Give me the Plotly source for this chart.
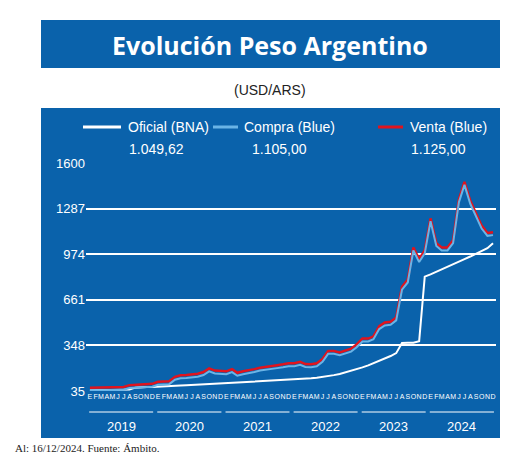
import plotly.graph_objects as go
import pandas as pd

months = pd.date_range("2019-01-01", periods=72, freq="MS") + pd.Timedelta(days=14)
oficial = [39,40,42,44,46,45,43,46,58,62,63,63,
           64,66,68,70,72,74,76,78,80,82,85,88,
           91,93,95,97,98,100,101,102,103,105,107,109,
           112,115,118,122,126,131,137,144,152,162,172,184,
           197,211,225,240,257,275,295,365,366,366,376,820,
           835,852,870,888,905,922,940,958,977,995,1015,1049.62]
compra = [38,39,41,44,45,43,43,55,58,62,64,64,
          78,78,82,112,123,125,128,133,145,170,155,150,
          150,165,140,150,155,165,175,180,182,192,198,205,
          205,215,200,198,205,235,290,290,280,290,305,335,
          375,375,390,460,485,490,520,730,780,1000,920,980,
          1200,1030,1000,1000,1050,1330,1450,1320,1230,1150,1100,1105]
venta = [c + 20 for c in compra[:-1]] + [1125]
yticks = [35, 348, 661, 974, 1287, 1600]
month_letters = ["E","F","M","A","M","J","J","A","S","O","N","D"]
years = ["2019","2020","2021","2022","2023","2024"]

W, H = 520, 468
L, R, T, B = 78, 32, 155, 85
def px(x): return (x - L) / (W - L - R)
def py(y): return (H - B - y) / (H - T - B)

BLUE = "#0a62ab"
FONT = "Liberation Sans"
fig = go.Figure()
fig.add_trace(go.Scatter(x=months, y=oficial, mode="lines", line=dict(color="white", width=2), name="Oficial (BNA)"))
fig.add_trace(go.Scatter(x=months, y=venta, mode="lines", line=dict(color="#e0141e", width=2.5), name="Venta (Blue)"))
fig.add_trace(go.Scatter(x=months, y=compra, mode="lines", line=dict(color="#6ab4e6", width=2), name="Compra (Blue)"))

shapes = [
    dict(type="rect", xref="paper", yref="paper", x0=px(33), x1=px(492), y0=py(60), y1=py(12), fillcolor=BLUE, line_width=0, layer="below"),
    dict(type="rect", xref="paper", yref="paper", x0=px(33), x1=px(492), y0=py(430), y1=py(100), fillcolor=BLUE, line_width=0, layer="below"),
]
for x0, x1, c in [(75, 113, "white"), (205, 230, "#6ab4e6"), (370, 395, "#e0141e")]:
    shapes.append(dict(type="line", xref="paper", yref="paper", x0=px(x0), x1=px(x1), y0=py(119), y1=py(119), line=dict(color=c, width=3)))
def ann(text, x, y, size, color="white", xanchor="center", family=FONT):
    return dict(text=text, x=px(x), y=py(y), xref="paper", yref="paper", showarrow=False,
                xanchor=xanchor, yanchor="middle", font=dict(size=size, color=color, family=family))
annotations = [
    ann("<b>Evolución Peso Argentino</b>", 262, 37, 25, family="Open Sans"),
    ann("(USD/ARS)", 262, 82, 14, color="#222"),
    ann("Oficial (BNA)", 118, 119, 14, xanchor="left"),
    ann("Compra (Blue)", 234, 119, 14, xanchor="left"),
    ann("Venta (Blue)", 400, 119, 14, xanchor="left"),
    ann("1.049,62", 148, 141, 14),
    ann("1.105,00", 271, 141, 14),
    ann("1.125,00", 430, 141, 14),
    ann("Al: 16/12/2024. Fuente: Ámbito.", 5, 440, 11, color="#222", xanchor="left", family="Liberation Serif"),
]
for yr in years:
    xs = pd.Timestamp(f"{yr}-01-01"); xe = pd.Timestamp(f"{yr}-12-20")
    shapes.append(dict(type="line", xref="x", yref="paper", x0=xs + pd.Timedelta(days=10), x1=xe, y0=py(404), y1=py(404), line=dict(color="white", width=1)))
    annotations.append(dict(text=yr, x=pd.Timestamp(f"{yr}-07-01"), y=py(418), xref="x", yref="paper", showarrow=False,
                            yanchor="middle", font=dict(size=13, color="white", family=FONT)))

fig.update_layout(
    width=W, height=H, margin=dict(l=L, r=R, t=T, b=B),
    paper_bgcolor="white", plot_bgcolor=BLUE, showlegend=False,
    shapes=shapes, annotations=annotations,
    xaxis=dict(range=["2018-12-25", "2024-12-31"], tickvals=list(months), ticktext=month_letters * 6, automargin=False,
               tickfont=dict(size=7, color="white", family=FONT), showgrid=False, ticks="", tickangle=0, zeroline=False),
    yaxis=dict(range=[35, 1600], tickvals=yticks, ticktext=[str(v) for v in yticks], showgrid=True, gridcolor="white", gridwidth=1.5,
               automargin=False, tickfont=dict(size=13, color="white", family=FONT), zeroline=False, ticks=""),
)
fig.write_html("out.html")
